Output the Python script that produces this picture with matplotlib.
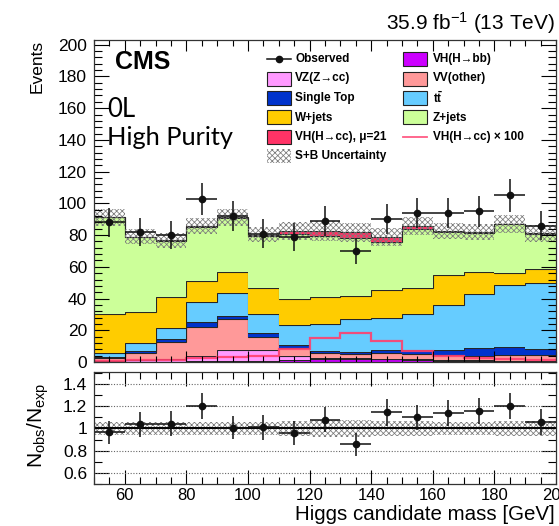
import numpy as np
import matplotlib
matplotlib.use("Agg")
import matplotlib.pyplot as plt
from matplotlib.patches import Rectangle
from matplotlib.lines import Line2D

plt.rcParams['font.family'] = ['Liberation Sans', 'DejaVu Sans']
plt.rcParams['mathtext.fontset'] = 'custom'
plt.rcParams['mathtext.rm'] = 'Liberation Sans'
plt.rcParams['mathtext.it'] = 'Liberation Sans:italic'
plt.rcParams['mathtext.bf'] = 'Liberation Sans:bold'
plt.rcParams['hatch.color'] = '#7a7a7a'
plt.rcParams['hatch.linewidth'] = 0.55

# ---------------- data ----------------
bin_edges = [50, 60, 70, 80, 90, 100, 110, 120, 130, 140, 150, 160, 170, 180, 190, 200]
observed = [88, 82, 80, 103, 92, 81, 79, 89, 70, 90, 94, 94, 95, 105, 86]
vh_bb = [0.2, 0.3, 0.3, 0.5, 0.7, 0.9, 1.2, 1.6, 1.9, 1.7, 1.2, 0.8, 0.6, 0.5, 0.4]
vz_cc = [0.5, 1.2, 1.4, 3.3, 6.7, 6.5, 2.6, 1.1, 0.5, 0.4, 0.5, 0.4, 0.4, 0.3, 0.3]
vv_other = [2.0, 4.4, 11.0, 18.5, 19.4, 8.6, 4.9, 2.8, 2.5, 3.8, 3.6, 2.9, 2.8, 3.4, 3.5]
single_top = [0.3, 1.1, 1.7, 3.0, 2.2, 2.1, 1.9, 1.5, 1.6, 1.7, 2.3, 3.5, 4.9, 5.3, 3.8]
ttbar = [2.9, 4.8, 6.9, 12.7, 14.2, 12.1, 12.8, 16.8, 20.5, 20.4, 22.6, 28.4, 34.1, 39.0, 41.8]
w_jets = [24.5, 19.8, 19.7, 12.8, 13.8, 16.4, 16.3, 16.9, 14.8, 17.4, 16.4, 19.0, 13.7, 7.4, 8.9]
z_jets = [60.8, 47.3, 35.3, 34.6, 33.7, 32.9, 41.1, 38.6, 36.1, 30.5, 37.5, 26.9, 25.1, 30.8, 22.2]
vh_cc = [0.005, 0.01, 0.015, 0.025, 0.03, 0.035, 0.08, 0.154, 0.185, 0.133, 0.07, 0.038, 0.025, 0.02, 0.015]
mu_signal = 21
line_scale = 100
rel_unc = [0.058, 0.06, 0.06, 0.06, 0.058, 0.06, 0.07, 0.075, 0.075, 0.07, 0.065, 0.06, 0.062, 0.065, 0.065]

y_ticks = [0, 20, 40, 60, 80, 100, 120, 140, 160, 180, 200]
x_ticks = [60, 80, 100, 120, 140, 160, 180, 200]
r_ticks = [0.6, 0.8, 1.0, 1.2, 1.4]
r_labels = ['0.6', '0.8', '1', '1.2', '1.4']

edges = np.array(bin_edges, dtype=float)
centers = 0.5 * (edges[1:] + edges[:-1])
halfw = 0.5 * np.diff(edges)
obs = np.array(observed, dtype=float)
sig_stack = mu_signal * np.array(vh_cc)
sig_line = line_scale * np.array(vh_cc)

layers = [
    (vh_bb, '#cc00ff'),
    (vz_cc, '#ff99ff'),
    (vv_other, '#ff9999'),
    (single_top, '#0033cc'),
    (ttbar, '#66ccff'),
    (w_jets, '#ffcc00'),
    (z_jets, '#ccff99'),
    (sig_stack, '#ff3366'),
]
HATCH = 'xxxxxx'
HCOL = '#7a7a7a'

# ---------------- figure ----------------
W, H = 559, 526
fig = plt.figure(figsize=(W / 100, H / 100), dpi=100)
def fx(p): return p / W
def fy(p): return 1 - p / H

L, R = 94, 556
ax = fig.add_axes([fx(L), fy(362), fx(R) - fx(L), fy(39.5) - fy(362)])
rax = fig.add_axes([fx(L), fy(484), fx(R) - fx(L), fy(372.3) - fy(484)])

bottom = np.zeros(len(centers))
for vals, col in layers:
    top = bottom + np.array(vals)
    ax.stairs(top, edges, baseline=bottom, fill=True, facecolor=col, edgecolor='none', lw=0)
    ax.stairs(top, edges, baseline=None, color='#262626', lw=0.8)
    bottom = top
total = bottom

ax.stairs(sig_line, edges, baseline=None, color='#ff3f6e', lw=1.6, alpha=0.9)

unc = np.array(rel_unc)
ax.stairs(total * (1 + unc), edges, baseline=total * (1 - unc), fill=True,
          facecolor='none', edgecolor=HCOL, hatch=HATCH, lw=0)
ax.errorbar(centers, obs, xerr=halfw, yerr=np.sqrt(obs), fmt='o', color='#111111',
            ms=4.5, elinewidth=1.1, capsize=0)

ax.set_xlim(edges[0], edges[-1])
ax.set_ylim(0, 203.3)
ax.set_yticks(y_ticks)
ax.set_yticklabels([str(t) for t in y_ticks])
ax.set_xticks(x_ticks)
ax.set_xticks(np.arange(50, 201, 5), minor=True)
ax.set_yticks(np.arange(0, 204, 4), minor=True)
ax.tick_params(axis='both', which='both', direction='in', top=True, right=True, labelbottom=False,
               labelsize=12.5, pad=5, width=0.8)
ax.tick_params(axis='y', which='major', length=11)
ax.tick_params(axis='y', which='minor', length=5.5)
ax.tick_params(axis='x', which='major', length=8)
ax.tick_params(axis='x', which='minor', length=4)
for s in ax.spines.values():
    s.set_linewidth(0.9)
    s.set_color('#333333')

# ratio panel
ratio = obs / total
rax.stairs(1 + unc, edges, baseline=1 - unc, fill=True, facecolor='none',
           edgecolor=HCOL, hatch=HATCH, lw=0)
for v in [0.6, 0.8, 1.2, 1.4]:
    rax.axhline(v, color='#666666', ls=(0, (1, 1.5)), lw=0.8)
rax.axhline(1.0, color='black', lw=1.4)
rax.errorbar(centers, ratio, xerr=halfw, yerr=np.sqrt(obs) / total, fmt='o', color='#111111',
             ms=4.5, elinewidth=1.1, capsize=0)
rax.set_xlim(edges[0], edges[-1])
rax.set_ylim(0.5, 1.505)
rax.set_yticks(r_ticks)
rax.set_yticklabels(r_labels)
rax.set_yticks(np.arange(0.5, 1.51, 0.1), minor=True)
rax.set_xticks(x_ticks)
rax.set_xticklabels([str(t) for t in x_ticks])
rax.set_xticks(np.arange(50, 201, 5), minor=True)
rax.tick_params(axis='both', which='both', direction='in', top=True, right=True,
                labelsize=12, pad=3, width=0.8)
rax.tick_params(axis='y', which='major', length=11, pad=5, labelsize=12.5)
rax.tick_params(axis='y', which='minor', length=6)
rax.tick_params(axis='x', which='major', length=10)
rax.tick_params(axis='x', which='minor', length=5)
for s in rax.spines.values():
    s.set_linewidth(0.9)
    s.set_color('#333333')

# texts
fig.text(fx(555), fy(29.5), '35.9 fb$^{-1}$ (13 TeV)', ha='right', va='baseline', fontsize=15)
fig.text(fx(37), fy(40), 'Events', rotation=90, ha='center', va='top', fontsize=12.5)
fig.text(fx(38), fy(425), r'N$_{\mathrm{obs}}$/N$_{\mathrm{exp}}$', rotation=90, ha='center',
         va='center', fontsize=15)
fig.text(fx(555), fy(520), 'Higgs candidate mass [GeV]', ha='right', va='baseline', fontsize=14.8)
fig.text(fx(115), fy(69), 'CMS', ha='left', va='baseline', fontsize=18, fontweight='bold')
fig.text(fx(107), fy(117), '0L', ha='left', va='baseline', fontsize=18.5, family=['Lato', 'DejaVu Sans'])
fig.text(fx(107), fy(145), 'High Purity', ha='left', va='baseline', fontsize=18.3,
         family=['Lato', 'DejaVu Sans'])

# legend (manual)
rows = [59, 78.5, 98, 117.5, 137, 156]
c1_box, c1_txt = 267, 295
c2_box, c2_txt = 403, 433
leg_fs = 8.5

def box(x0, yc, color, edge='#222222'):
    r = Rectangle((fx(x0), fy(yc + 7)), 24 / W, 14 / H, transform=fig.transFigure,
                  facecolor=color, edgecolor=edge, lw=0.8)
    fig.add_artist(r)

def label(x0, yc, s):
    fig.text(fx(x0), fy(yc), s, ha='left', va='center', fontsize=leg_fs, fontweight='bold')

# col 1
fig.add_artist(Line2D([fx(c1_box), fx(c1_box + 24)], [fy(rows[0]), fy(rows[0])],
                      transform=fig.transFigure, color='#111111', lw=1.1))
fig.add_artist(Line2D([fx(c1_box + 12)], [fy(rows[0])], transform=fig.transFigure,
                      marker='o', ms=4.5, color='#111111'))
label(c1_txt, rows[0], 'Observed')
box(c1_box, rows[1], '#ff99ff'); label(c1_txt, rows[1], 'VZ(Z\u2192cc)')
box(c1_box, rows[2], '#0033cc'); label(c1_txt, rows[2], 'Single Top')
box(c1_box, rows[3], '#ffcc00'); label(c1_txt, rows[3], 'W+jets')
box(c1_box, rows[4], '#ff3366'); label(c1_txt, rows[4], 'VH(H\u2192cc), \u03bc=21')
r = Rectangle((fx(c1_box), fy(rows[5] + 7)), 24 / W, 14 / H, transform=fig.transFigure,
              facecolor='none', edgecolor=HCOL, lw=0, hatch=HATCH)
fig.add_artist(r)
label(c1_txt, rows[5], 'S+B Uncertainty')
# col 2
box(c2_box, rows[0], '#cc00ff'); label(c2_txt, rows[0], 'VH(H\u2192bb)')
box(c2_box, rows[1], '#ff9999'); label(c2_txt, rows[1], 'VV(other)')
box(c2_box, rows[2], '#66ccff'); label(c2_txt, rows[2], r't$\mathbf{\bar{t}}$')
box(c2_box, rows[3], '#ccff99'); label(c2_txt, rows[3], 'Z+jets')
fig.add_artist(Line2D([fx(c2_box), fx(c2_box + 24)], [fy(rows[4]), fy(rows[4])],
                      transform=fig.transFigure, color='#ff5c85', lw=1.3))
label(c2_txt, rows[4], 'VH(H\u2192cc) \u00d7 100')

fig.savefig('out.png', dpi=100)
